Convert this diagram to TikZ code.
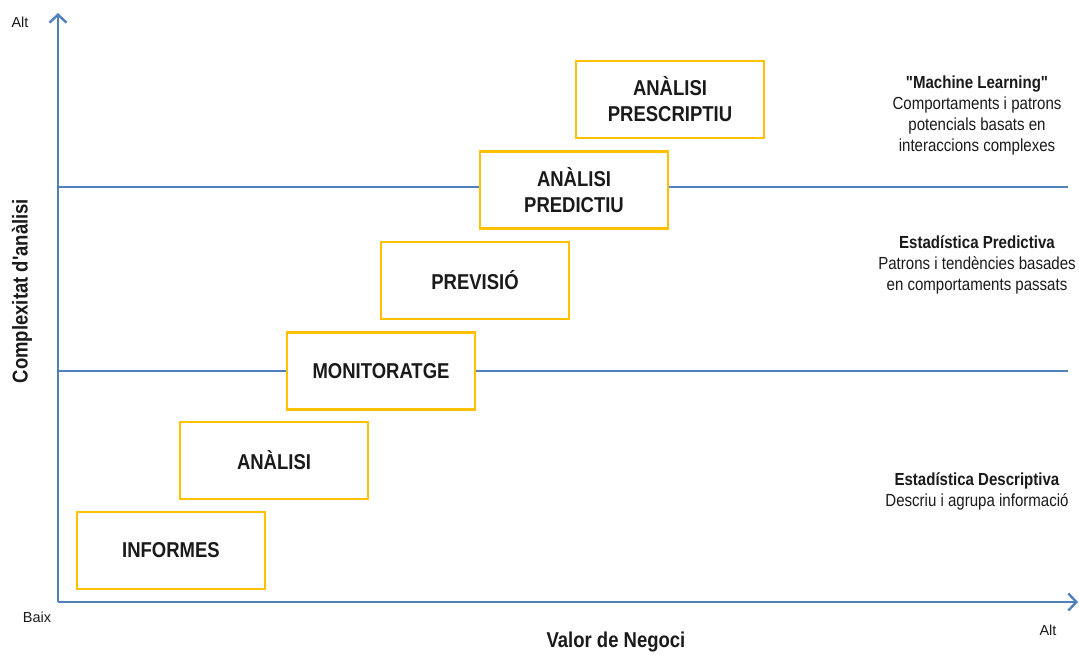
\documentclass[tikz,border=0pt]{standalone}
\usepackage{fontspec}
\setmainfont{Liberation Sans}
\newfontfamily\narrowfont{Liberation Sans}[FakeStretch=0.86]
\newfontfamily\plainfont{Liberation Sans}
\usetikzlibrary{arrows.meta}
\definecolor{axisblue}{HTML}{4F81BD}
\definecolor{boxgold}{HTML}{FFC000}
\definecolor{txt}{HTML}{1A1A1A}
\begin{document}
\begin{tikzpicture}[x=1pt,y=-1pt,
  stage/.style={draw=boxgold, line width=2.6pt, fill=white, minimum width=188pt,
    minimum height=77pt, align=center, font=\narrowfont\fontsize{21.5}{26}\selectfont\bfseries,
    text=txt, inner sep=0pt},
  axis/.style={draw=axisblue, line width=2.8pt, -{Straight Barb[length=8pt,width=17pt,line width=2.4pt]}},
  level/.style={draw=axisblue, line width=1.1pt},
  note/.style={align=center, font=\narrowfont\fontsize{17.5}{21}\selectfont, text=txt},
  tick/.style={font=\plainfont\fontsize{14.5}{16}\selectfont, text=txt},
  title/.style={font=\narrowfont\fontsize{21.5}{24}\selectfont\bfseries, text=txt}]
\useasboundingbox (0,0) rectangle (1079,655);

% axes and level separators
\coordinate (origin) at (58,602);
\coordinate (ytop) at (58,13);
\coordinate (xend) at (1078,602);
\coordinate (l1a) at (58,371);
\coordinate (l1b) at (1068,371);
\coordinate (l2a) at (58,187);
\coordinate (l2b) at (1068,187);
\draw[level] (l1a) -- (l1b);
\draw[level] (l2a) -- (l2b);
\draw[axis] (origin) -- (ytop);
\draw[axis] (origin) -- (xend);

% stages
\node[stage] (informes) at (171,550.5) {INFORMES};
\node[stage] (analisi) at (274,460.5) {ANÀLISI};
\node[stage] (monitor) at (381,371) {MONITORATGE};
\node[stage] (previsio) at (475,280.5) {PREVISIÓ};
\node[stage] (predictiu) at (574,190) {ANÀLISI\\PREDICTIU};
\node[stage] (prescriptiu) at (670,99.5) {ANÀLISI\\PRESCRIPTIU};

% descriptions of each band
\node[note] (ml) at (977,115) {\textbf{"Machine Learning"}\\Comportaments i patrons\\potencials basats en\\interaccions complexes};
\node[note] (pred) at (977,265) {\textbf{Estadística Predictiva}\\Patrons i tendències basades\\en comportaments passats};
\node[note] (desc) at (977,491.5) {\textbf{Estadística Descriptiva}\\Descriu i agrupa informació};

% axis labels
\node[tick] (yalt) at (20,22) {Alt};
\node[tick] (ybaix) at (37,617) {Baix};
\node[tick] (xalt) at (1048,630) {Alt};
\node[title] (xlab) at (616,642) {Valor de Negoci};
\node[title, rotate=90] (ylab) at (22,291) {Complexitat d'anàlisi};
\end{tikzpicture}
\end{document}
